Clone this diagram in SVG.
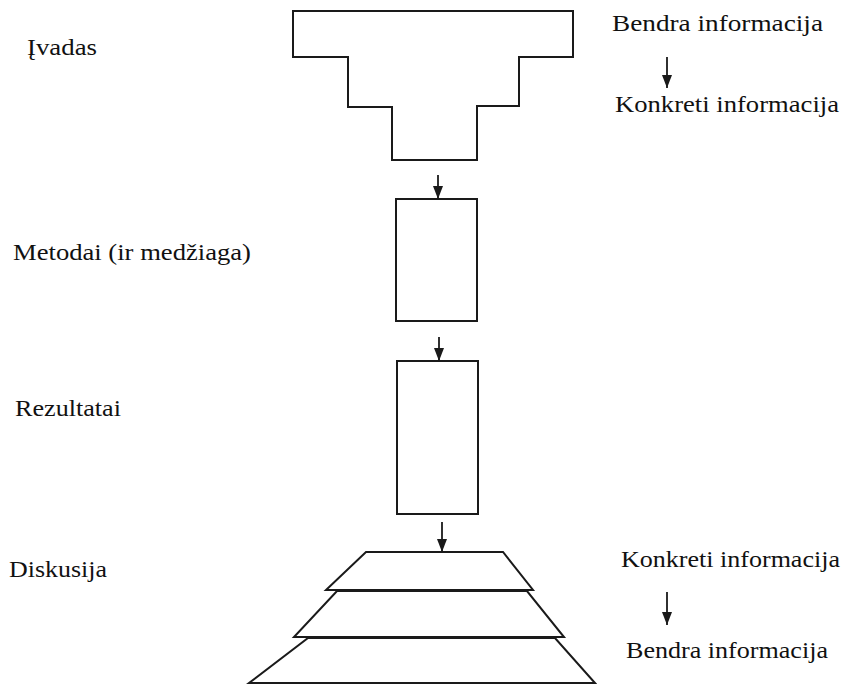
<svg xmlns="http://www.w3.org/2000/svg" width="842" height="684" viewBox="0 0 842 684">
<defs>
<style>
.shape{fill:#fff;stroke:#1a1a1a;stroke-width:2}
.conn{stroke:#1a1a1a;stroke-width:1.8;fill:none}
</style>
<marker id="ah" viewBox="0 0 13 10" refX="13" refY="5" markerWidth="13" markerHeight="10" markerUnits="userSpaceOnUse" orient="auto">
<path d="M0,0 L13,5 L0,10 z" fill="#1a1a1a"/>
</marker>
</defs>
<rect width="842" height="684" fill="#fff"/>

<g id="ivadas">
<path class="shape" d="M293,11 L573,11 L573,57 L519,57 L519,106 L477,106 L477,160 L392,160 L392,107 L348,107 L348,57 L293,57 Z"/>
<text font-family="Liberation Serif" font-size="23" fill="#111" x="27" y="55" textLength="70" lengthAdjust="spacingAndGlyphs">Įvadas</text>
</g>

<g id="metodai">
<rect class="shape" x="396" y="199" width="81" height="122"/>
<text font-family="Liberation Serif" font-size="23" fill="#111" x="13" y="260" textLength="238" lengthAdjust="spacingAndGlyphs">Metodai (ir medžiaga)</text>
</g>

<g id="rezultatai">
<rect class="shape" x="397" y="361" width="81" height="153"/>
<text font-family="Liberation Serif" font-size="23" fill="#111" x="15" y="416" textLength="106" lengthAdjust="spacingAndGlyphs">Rezultatai</text>
</g>

<g id="diskusija">
<path class="shape" d="M308,638 L555,638 L595,683 L249,683 Z"/>
<path class="shape" d="M337,591 L527,591 L564,637 L294,637 Z"/>
<path class="shape" d="M366,552 L503,552 L533,590 L326,590 Z"/>
<text font-family="Liberation Serif" font-size="23" fill="#111" x="9" y="577" textLength="98" lengthAdjust="spacingAndGlyphs">Diskusija</text>
</g>

<g id="bendra-konkreti">
<text font-family="Liberation Serif" font-size="23" fill="#111" x="612" y="31" textLength="211" lengthAdjust="spacingAndGlyphs">Bendra informacija</text>
<text font-family="Liberation Serif" font-size="23" fill="#111" x="615" y="112" textLength="224" lengthAdjust="spacingAndGlyphs">Konkreti informacija</text>
</g>

<g id="konkreti-bendra">
<text font-family="Liberation Serif" font-size="23" fill="#111" x="621" y="567" textLength="219" lengthAdjust="spacingAndGlyphs">Konkreti informacija</text>
<text font-family="Liberation Serif" font-size="23" fill="#111" x="626" y="658" textLength="202" lengthAdjust="spacingAndGlyphs">Bendra informacija</text>
</g>

<g id="connectors">
<line class="conn" x1="438" y1="175" x2="438" y2="199" marker-end="url(#ah)"/>
<line class="conn" x1="439" y1="337" x2="439" y2="361" marker-end="url(#ah)"/>
<line class="conn" x1="442" y1="522" x2="442" y2="552" marker-end="url(#ah)"/>
<line class="conn" x1="667" y1="57" x2="667" y2="88" marker-end="url(#ah)"/>
<line class="conn" x1="667" y1="592" x2="667" y2="625" marker-end="url(#ah)"/>
</g>
</svg>
